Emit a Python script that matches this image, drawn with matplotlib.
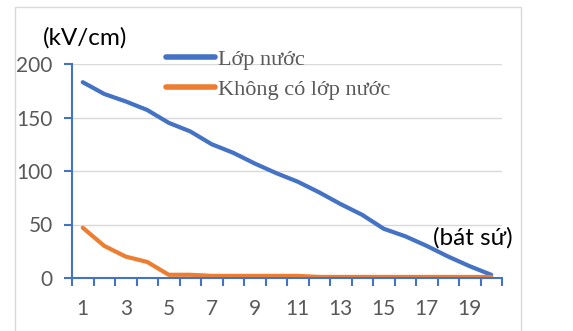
import matplotlib.pyplot as plt
from matplotlib.patches import Rectangle
import numpy as np

# data
insulators = list(range(1, 21))
with_water = [183, 172, 165, 157, 145, 137, 125, 117, 107, 98,
              90, 80, 69, 59, 46, 39, 30, 20, 11, 3]
without_water = [47, 30, 20, 15, 3, 3, 2, 2, 2, 2,
                 2, 1, 1, 1, 1, 1, 1, 1, 1, 1]
series_names = ["Lớp nước", "Không có lớp nước"]
y_ticks = [0, 50, 100, 150, 200]
x_labels = [1, 3, 5, 7, 9, 11, 13, 15, 17, 19]

W, H = 573, 331
blue = "#4472C4"
orange = "#ED7D31"
grey = "#595959"

fig = plt.figure(figsize=(W / 100, H / 100), dpi=100)
fig.add_artist(Rectangle((15 / W, -0.1), (521 - 15) / W, 1.1 - 7 / H,
                         transform=fig.transFigure, fill=False,
                         edgecolor="#d9d9d9", linewidth=1))

ax = fig.add_axes([72 / W, 1 - 278 / H, (502 - 72) / W, (278 - 64) / H])

ax.plot(insulators, with_water, color=blue, lw=3, solid_capstyle="round",
        label=series_names[0])
ax.plot(insulators, without_water, color=orange, lw=3, solid_capstyle="round",
        label=series_names[1])

ax.set_xlim(0.5, 20.5)
ax.set_ylim(0, 200)
ax.set_yticks(y_ticks)
ax.set_xticks(x_labels)
ax.set_xticks(np.arange(0.5, 21, 1), minor=True)
ax.tick_params(axis="x", which="major", length=0, pad=15)
ax.tick_params(axis="x", which="minor", length=6, width=1.5, color=blue,
               direction="out")
ax.tick_params(axis="y", length=6, width=1.5, color=blue, pad=8)
ax.tick_params(labelsize=15, labelcolor=grey)
for lbl in ax.get_xticklabels() + ax.get_yticklabels():
    lbl.set_family("Lato")

for s in ["top", "right"]:
    ax.spines[s].set_visible(False)
for s in ["left", "bottom"]:
    ax.spines[s].set_color(blue)
    ax.spines[s].set_linewidth(1.5)

ax.grid(axis="y", color="#d9d9d9", lw=1)
ax.set_axisbelow(True)
ax.spines["bottom"].set_zorder(3)

fig.text(43 / W, 1 - 38 / H, "(kV/cm)", fontsize=17.5, family="Lato",
         color="black", va="center", ha="left")
fig.text(433 / W, 1 - 238 / H, "(bát sứ)", fontsize=17.5, family="Lato",
         color="black", va="center", ha="left")

leg = ax.legend(loc="upper left", bbox_to_anchor=(166 / W, 1 - 49 / H),
                bbox_transform=fig.transFigure, frameon=False,
                prop={"family": "Liberation Serif", "size": 16},
                labelcolor=grey, handlelength=2.2, handletextpad=0.12,
                labelspacing=0.45, borderpad=0, borderaxespad=0)
for line in leg.get_lines():
    line.set_linewidth(4)

fig.savefig("out.png", dpi=100)
